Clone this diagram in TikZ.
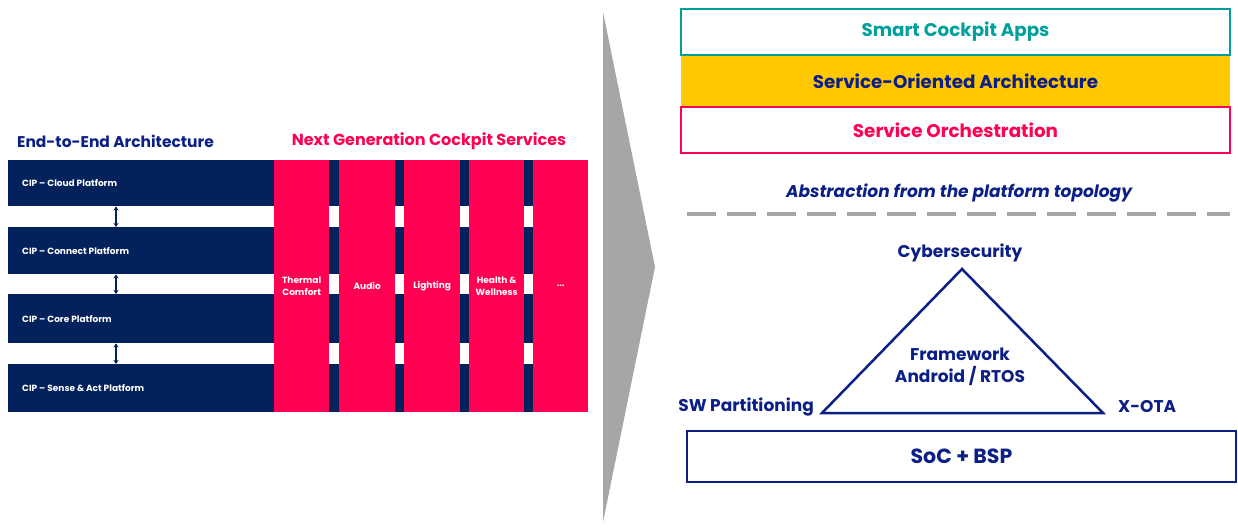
\documentclass[tikz,border=0pt]{standalone}
\usepackage{fontspec}
\setmainfont{Poppins}
\usepackage{tikz}
\usetikzlibrary{positioning,arrows.meta}

\definecolor{navy}{HTML}{03215B}
\definecolor{hotred}{HTML}{FF0052}
\definecolor{cteal}{HTML}{00A19C}
\definecolor{gold}{HTML}{FFC800}
\definecolor{inkblue}{HTML}{0B1F86}
\definecolor{chevgray}{HTML}{A6A6A6}

\tikzset{
    rowbox/.style={fill=navy, minimum width=580pt, inner sep=0pt, anchor=north west},
    rowlbl/.style={text=white, font=\bfseries\fontsize{9}{11}\selectfont, anchor=west, inner sep=0pt},
    svcbox/.style={fill=hotred, minimum height=252pt, inner sep=0pt, anchor=north west, align=center,
        text=white, font=\bfseries\fontsize{9}{12}\selectfont},
    layer/.style={minimum width=549pt, inner sep=0pt, line width=2.5pt, font=\bfseries\fontsize{18.3}{22}\selectfont},
    lbl/.style={text=inkblue, inner sep=0pt, font=\bfseries\fontsize{17}{22}\selectfont},
    duo/.style={{Stealth[length=4pt,width=5pt]}-{Stealth[length=4pt,width=5pt]}, line width=1.4pt, navy}
}

\begin{document}
\begin{tikzpicture}[x=1pt, y=-1pt]
    \useasboundingbox (0,0) rectangle (1238,527);
    % left: platform rows
    \node[font=\bfseries\fontsize{15.5}{18}\selectfont, text=inkblue] (e2e) at (115.5,141) {End-to-End Architecture};
    \node[font=\bfseries\fontsize{16}{18}\selectfont, text=hotred] (ngcs) at (429,141) {Next Generation Cockpit Services};
    \node[rowbox, minimum height=46pt] (cloud) at (8,160) {};
    \node[rowbox, minimum height=47pt] (connect) at (8,227) {};
    \node[rowbox, minimum height=49pt] (core) at (8,294) {};
    \node[rowbox, minimum height=48pt] (sense) at (8,364) {};
    \node[rowlbl] (cloudlbl) at (22,183.5) {CIP – Cloud Platform};
    \node[rowlbl] (connectlbl) at (22,251.5) {CIP – Connect Platform};
    \node[rowlbl] (corelbl) at (22,319.5) {CIP – Core Platform};
    \node[rowlbl] (senselbl) at (22,388.5) {CIP – Sense \& Act Platform};
    \coordinate (ax) at (116,0);
    \draw[duo] (cloud.south -| ax) -- (connect.north -| ax);
    \draw[duo] (connect.south -| ax) -- (core.north -| ax);
    \draw[duo] (core.south -| ax) -- (sense.north -| ax);
    % service columns
    \node[svcbox, minimum width=55pt] (thermal) at (274,160) {Thermal\\Comfort};
    \node[svcbox, minimum width=56pt] (audio) at (339,160) {Audio};
    \node[svcbox, minimum width=56pt] (lighting) at (404,160) {Lighting};
    \node[svcbox, minimum width=55pt] (health) at (469,160) {Health \&\\Wellness};
    \node[svcbox, minimum width=55pt] (more) at (533,160) {...};
    % chevron
    \fill[chevgray] (603,12) -- (655,267) -- (603,522) -- cycle;
    % right: layers
    \node[layer, draw=cteal, text=cteal, minimum height=46pt] (apps) at (955.5,32) {Smart Cockpit Apps};
    \node[layer, fill=gold, text=inkblue, minimum height=50pt, line width=0pt] (soa) at (955.5,81) {Service-Oriented Architecture};
    \node[layer, draw=hotred, text=hotred, minimum height=46pt] (orch) at (955.5,130) {Service Orchestration};
    \node[lbl, font=\bfseries\itshape\fontsize{17}{20}\selectfont] (abst) at (959,193) {Abstraction from the platform topology};
    \draw[chevgray, line width=4pt, dash pattern=on 28.5pt off 11.5pt] (687,214) -- (1230,214);
    % triangle
    \coordinate (apex) at (962,269);
    \coordinate (bl) at (822,413);
    \coordinate (br) at (1103,413);
    \draw[inkblue, line width=2.5pt] (apex) -- (br) -- (bl) -- cycle;
    \node[lbl] (cyber) at (960,253) {Cybersecurity};
    \node[lbl, anchor=east] (swpart) at (814,407) {SW Partitioning};
    \node[lbl, anchor=west] (xota) at (1118,407) {X-OTA};
    \node[lbl, align=center] (fw) at (960,367) {Framework\\Android / RTOS};
    \node[lbl, draw=inkblue, line width=2.5pt, minimum width=549pt, minimum height=51pt,
        font=\bfseries\fontsize{20.5}{24}\selectfont] (soc) at (961.5,456.5) {SoC + BSP};
\end{tikzpicture}
\end{document}
